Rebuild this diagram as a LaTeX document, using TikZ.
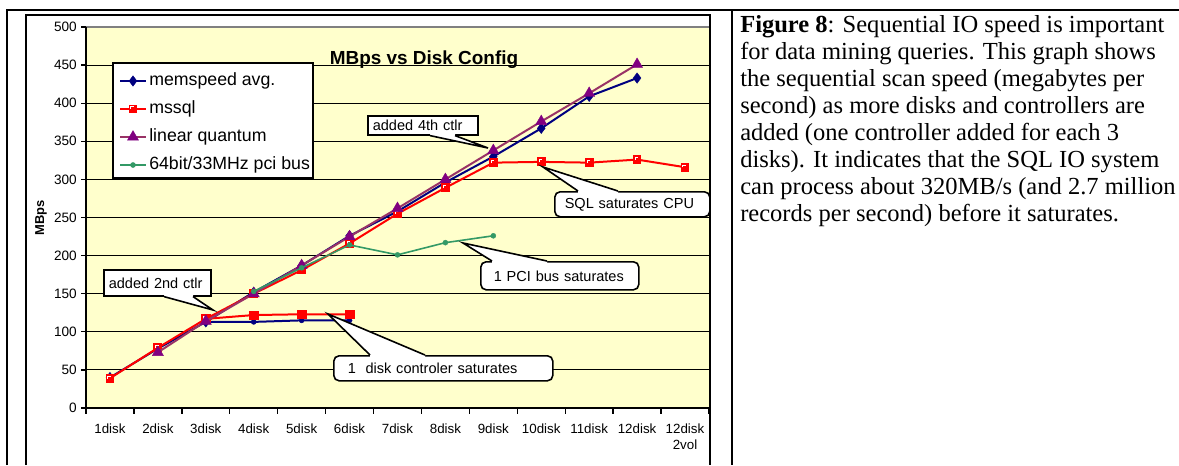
\documentclass[tikz,border=0pt]{standalone}
\usepackage{fontspec}
\setmainfont{Liberation Sans}
\newfontfamily\capfont{Liberation Serif}
\usetikzlibrary{plotmarks,calc}
\definecolor{navyc}{HTML}{000080}
\definecolor{purpl}{HTML}{993366}
\definecolor{purpm}{HTML}{800080}
\definecolor{greenc}{HTML}{339966}
\definecolor{plotbg}{HTML}{FFFFCC}
\definecolor{redc}{HTML}{FF0000}
\pgfdeclareplotmark{sqnotch}{%
  \pgfpathrectangle{\pgfqpoint{-\pgfplotmarksize}{-\pgfplotmarksize}}{\pgfqpoint{2\pgfplotmarksize}{2\pgfplotmarksize}}%
  \pgfusepathqfill
  \begin{pgfscope}%
  \pgfsetstrokecolor{white}\pgfsetlinewidth{0.55pt}%
  \pgfpathmoveto{\pgfqpoint{-0.5\pgfplotmarksize}{-0.05\pgfplotmarksize}}%
  \pgfpathlineto{\pgfqpoint{-0.5\pgfplotmarksize}{0.5\pgfplotmarksize}}%
  \pgfpathlineto{\pgfqpoint{0.15\pgfplotmarksize}{0.5\pgfplotmarksize}}%
  \pgfusepathqstroke
  \end{pgfscope}}
\tikzset{
  frameline/.style={line width=1.5pt, black},
  gridline/.style={line width=0.8pt, black},
  axisline/.style={line width=1.5pt, black},
  ylab/.style={anchor=east, font=\fontsize{10.2}{12}\selectfont, inner sep=0pt},
  xlab/.style={anchor=north, align=center, font=\fontsize{10}{12}\selectfont, inner sep=0pt},
  navyline/.style={draw=navyc, line width=1.5pt, mark options={fill=navyc, draw=navyc, line width=0.3pt, solid}},
  redline/.style={draw=redc, line width=1.5pt, mark options={fill=redc, draw=redc, line width=0.3pt, solid}},
  purpline/.style={draw=purpl, line width=1.5pt, mark options={fill=purpm, draw=purpm, line width=0.3pt, solid}},
  greenline/.style={draw=greenc, line width=1.2pt, mark options={fill=greenc, draw=greenc, line width=0.3pt, solid}},
  legtext/.style={anchor=west, font=\fontsize{13.3}{15}\selectfont, inner sep=0pt},
  cbox/.style={draw=black, fill=white, line width=1.2pt, font=\fontsize{10.9}{12}\selectfont, anchor=north west, align=left, inner ysep=0pt},
  wedgeline/.style={line width=1.2pt, black, line join=miter},
}
\begin{document}
\begin{tikzpicture}[x=0.75pt,y=-0.75pt]
\useasboundingbox (0,0) rectangle (1179,465);
% table lines
\draw[frameline] (7,465) -- (7,10) -- (1179,10);
\draw[frameline] (732,10) -- (732,465);
% plot area
\fill[plotbg] (86,27) rectangle (709,408);
\draw[line width=1pt, gray] (86,27) -- (709,27);
\foreach \v in {50,100,...,450}{
  \draw[gridline] (86,{408-0.762*\v}) -- (709,{408-0.762*\v});
}
% chart frame
\draw[frameline] (26,465) -- (26,15) -- (710,15) -- (710,465);
% axes
\draw[axisline] (86,27) -- (86,408) -- (709,408);
\foreach \v in {0,50,...,500}{
  \draw[line width=1pt] (81,{408-0.762*\v}) -- (86,{408-0.762*\v});
  \node[ylab] (yl\v) at (77,{408-0.762*\v}) {\v};
}
\foreach \k in {0,...,13}{
  \draw[line width=1pt] ({86+47.92*\k},408) -- ({86+47.92*\k},414);
}
\foreach \i/\t in {1/1disk,2/2disk,3/3disk,4/4disk,5/5disk,6/6disk,7/7disk,8/8disk,9/9disk,10/10disk,11/11disk,12/12disk}{
  \node[xlab] (xl\i) at ({86+47.92*(\i-0.5)},424) {\t};
}
\node[xlab] (xl13) at ({86+47.92*12.5},424) {12disk\\2vol};
\node[rotate=90, font=\bfseries\fontsize{9.7}{11}\selectfont, inner sep=0pt] (ylabel) at (41,218) {MBps};
% title
\node[font=\bfseries\fontsize{14.2}{16}\selectfont, anchor=base, inner sep=0pt] (title) at (424,64) {MBps vs Disk Config};
% data
\begin{scope}[shift={(86,408)}]
\begin{scope}[x=35.94pt, y=0.5715pt]
\draw[navyline] plot[mark=*, mark size=1.9pt] coordinates {(2.5,113) (3.5,113) (4.5,115) (5.5,115)};
\draw[navyline] plot[mark=diamond*, mark size=3.9pt] coordinates {(0.5,40) (1.5,78) (2.5,113) (3.5,152) (4.5,187) (5.5,226) (6.5,258) (7.5,296) (8.5,330) (9.5,367) (10.5,409) (11.5,433)};
\draw[redline] plot[mark=square*, mark size=3.2pt] coordinates {(2.5,117) (3.5,122) (4.5,123) (5.5,123)};
\draw[redline] plot[mark=sqnotch, mark size=3.3pt] coordinates {(0.5,39) (1.5,79) (2.5,117) (3.5,150) (4.5,181) (5.5,216) (6.5,255) (7.5,289) (8.5,322) (9.5,323) (10.5,322) (11.5,326) (12.5,316)};
\draw[purpline] plot[mark=triangle*, mark size=4.8pt] coordinates {(1.5,73) (2.5,114) (3.5,150) (4.5,187) (5.5,225) (6.5,262) (7.5,300) (8.5,338) (9.5,376) (10.5,413) (11.5,451)};
\draw[greenline] plot[mark=*, mark size=1.9pt] coordinates {(3.5,153) (4.5,184) (5.5,214) (6.5,201) (7.5,217) (8.5,226)};
\end{scope}
\end{scope}
% legend
\node[draw=black, fill=white, line width=1.5pt, minimum width=150pt, minimum height=86.25pt, anchor=north west, inner sep=0pt] (legend) at (112,62) {};
\draw[navyline] (120,81) -- (146,81);
\path[navyline, draw=none] plot[mark=diamond*, mark size=3.9pt] coordinates {(133,81)};
\node[legtext] (lt1) at (149,81) {memspeed avg.};
\draw[redline] (120,109) -- (146,109);
\path[redline, draw=none] plot[mark=sqnotch, mark size=3.3pt] coordinates {(133,109)};
\node[legtext] (lt2) at (149,109) {mssql};
\draw[purpline] (120,137) -- (146,137);
\path[purpline, draw=none] plot[mark=triangle*, mark size=4.8pt] coordinates {(133,137)};
\node[legtext] (lt3) at (149,137) {linear quantum};
\draw[greenline] (120,165) -- (146,165);
\path[greenline, draw=none] plot[mark=*, mark size=1.9pt] coordinates {(133,165)};
\node[legtext] (lt4) at (149,165) {64bit/33MHz pci bus};
% callout: added 2nd ctlr
\node[cbox, minimum height=19.5pt, text width=72.75pt, inner xsep=3.75pt] (c2) at (103,269) {added 2nd ctlr};
\coordinate (t2) at (213,310);
\fill[white] ($(c2.south west)+(61,-2)$) -- ($(c2.south west)+(61,0)$) -- (t2) -- ($(c2.south west)+(90,0)$) -- ($(c2.south west)+(90,-2)$) -- cycle;
\draw[wedgeline] ($(c2.south west)+(61,0)$) -- (t2) -- ($(c2.south west)+(90,0)$);
% callout: added 4th ctlr
\node[cbox, minimum height=14.25pt, text width=75pt, inner xsep=3.75pt] (c4) at (367,115) {added 4th ctlr};
\coordinate (t4) at (488,148);
\fill[white] ($(c4.south west)+(63,-2)$) -- ($(c4.south west)+(63,0)$) -- (t4) -- ($(c4.south west)+(88,0)$) -- ($(c4.south west)+(88,-2)$) -- cycle;
\draw[wedgeline] ($(c4.south west)+(63,0)$) -- (t4) -- ($(c4.south west)+(88,0)$);
% callout: SQL saturates CPU
\node[cbox, rounded corners=4pt, minimum height=18.75pt, text width=101.25pt, inner xsep=7.5pt] (cs) at (554,191) {SQL saturates CPU};
\coordinate (ts) at (543,167);
\fill[white] ($(cs.north west)+(24,2)$) -- ($(cs.north west)+(24,0)$) -- (ts) -- ($(cs.north west)+(64,0)$) -- ($(cs.north west)+(64,2)$) -- cycle;
\draw[wedgeline] ($(cs.north west)+(24,0)$) -- (ts) -- ($(cs.north west)+(64,0)$);
% callout: 1 PCI bus saturates
\node[cbox, rounded corners=4pt, minimum height=21pt, text width=99pt, inner xsep=9.75pt] (cp) at (480,261) {1 PCI bus saturates};
\coordinate (tp) at (463,243);
\fill[white] ($(cp.north west)+(12,2)$) -- ($(cp.north west)+(12,0)$) -- (tp) -- ($(cp.north west)+(67,0)$) -- ($(cp.north west)+(67,2)$) -- cycle;
\draw[wedgeline] ($(cp.north west)+(12,0)$) -- (tp) -- ($(cp.north west)+(67,0)$);
% callout: 1 disk controler saturates
\node[cbox, rounded corners=4pt, minimum height=18.75pt, text width=143.25pt, inner xsep=10.5pt] (cd) at (333,355) {1\ \ disk controler saturates};
\coordinate (td) at (328,314);
\fill[white] ($(cd.north west)+(37,2)$) -- ($(cd.north west)+(37,0)$) -- (td) -- ($(cd.north west)+(92,0)$) -- ($(cd.north west)+(92,2)$) -- cycle;
\draw[wedgeline] ($(cd.north west)+(37,0)$) -- (td) -- ($(cd.north west)+(92,0)$);
% caption
\node[anchor=north west, align=left, inner sep=0pt, font=\capfont\fontsize{18.4}{20.25}\selectfont] (caption) at (740,15) {\textbf{Figure 8}:  Sequential IO speed is important\\
for data mining queries.  This graph shows\\
the sequential scan speed (megabytes per\\
second) as more disks and controllers are\\
added (one controller added for each 3\\
disks).  It indicates that the SQL IO system\\
can process about 320MB/s (and 2.7 million\\
records per second) before it saturates.};
\end{tikzpicture}
\end{document}
